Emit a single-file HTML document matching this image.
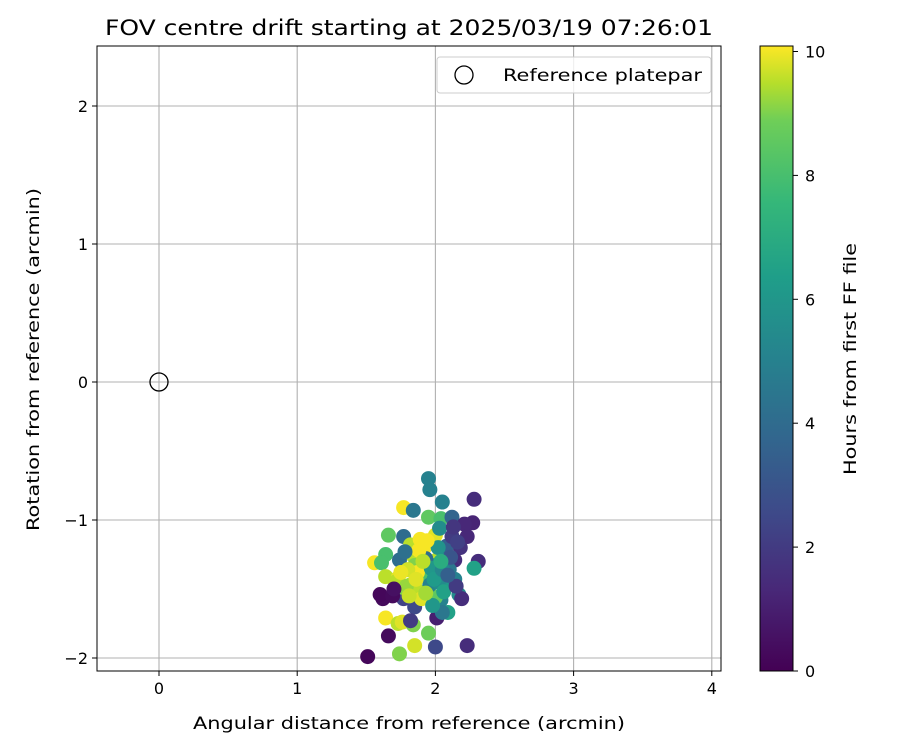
<!DOCTYPE html>
<html><head><meta charset="utf-8"><style>
body{margin:0;background:#fff;font-family:"Liberation Sans","DejaVu Sans",sans-serif}
text{font-family:"DejaVu Sans","Liberation Sans",sans-serif;fill:#000}
</style></head><body>
<svg id="c" width="900" height="750" xmlns="http://www.w3.org/2000/svg">
<defs><linearGradient id="vg" x1="0" y1="1" x2="0" y2="0">
<stop offset="0" stop-color="#440154"/><stop offset="0.13" stop-color="#482878"/><stop offset="0.25" stop-color="#3e4989"/><stop offset="0.38" stop-color="#31688e"/><stop offset="0.5" stop-color="#26828e"/><stop offset="0.63" stop-color="#1f9e89"/><stop offset="0.75" stop-color="#35b779"/><stop offset="0.88" stop-color="#6ece58"/><stop offset="0.94" stop-color="#b5de2b"/><stop offset="1" stop-color="#fde725"/></linearGradient></defs>
<text x="105" y="35" font-size="21" textLength="608" lengthAdjust="spacingAndGlyphs">FOV centre drift starting at 2025/03/19 07:26:01</text>
<g id="grid"></g><g id="pts"></g><g id="axes"></g>
<g>
<rect x="437" y="57" width="274" height="36" rx="3" fill="#fff" fill-opacity="0.8" stroke="#ccc"/>
<circle cx="464" cy="75" r="9" fill="none" stroke="#000" stroke-width="1.3"/>
<text x="503" y="81" font-size="17" textLength="199" lengthAdjust="spacingAndGlyphs">Reference platepar</text></g>
<rect x="760" y="46" width="33" height="625" fill="url(#vg)" stroke="#000" stroke-width="1"/>
<g id="cb"></g>
<text transform="translate(856,475) rotate(-90)" font-size="17" textLength="232" lengthAdjust="spacingAndGlyphs">Hours from first FF file</text>
<text x="193" y="729" font-size="17" textLength="432" lengthAdjust="spacingAndGlyphs">Angular distance from reference (arcmin)</text>
<text transform="translate(39,531) rotate(-90)" font-size="17" textLength="343" lengthAdjust="spacingAndGlyphs">Rotation from reference (arcmin)</text>
</svg>
<script>
const xTicks=[0,1,2,3,4];
const yTicks=[-2,-1,0,1,2];
const cbTicks=[0,2,4,6,8,10];
const ptX=[1.51,1.66,1.62,1.56,1.95,1.96,2.28,2.27,2.05,1.77,1.84,1.95,2.04,2.12,2.21,2.23,2.31,2.28,1.66,1.64,1.61,1.77,1.82,1.89,1.95,2.0,1.92,1.83,1.85,1.74,2.18,2.14,2.10,2.01,2.07,2.14,2.17,2.19,2.04,2.09,2.01,2.05,1.85,1.77,1.64,1.73,1.77,1.71,1.82,1.87,1.89,1.92,1.90,2.00,1.96,2.03,2.00,2.07,1.64,1.73,1.76,1.84,1.95,1.85,1.74,2.0,2.23,1.82,1.87,1.60,1.69,2.08,2.03,1.98,2.12,
1.93,1.97,2.02,1.88,1.80,1.79,1.86,1.91,2.06,2.11,2.15,2.02,1.99,2.05,1.81,1.75,1.94,2.09,2.16,1.98,1.70,1.93,2.04,2.13,1.78];
const ptY=[-1.99,-1.84,-1.57,-1.31,-0.70,-0.78,-0.85,-1.02,-0.87,-0.91,-0.93,-0.98,-0.99,-0.98,-1.03,-1.12,-1.30,-1.35,-1.11,-1.25,-1.31,-1.12,-1.18,-1.14,-1.17,-1.11,-1.20,-1.25,-1.33,-1.29,-1.20,-1.29,-1.36,-1.29,-1.47,-1.43,-1.54,-1.57,-1.58,-1.67,-1.71,-1.67,-1.63,-1.57,-1.41,-1.42,-1.49,-1.45,-1.47,-1.51,-1.40,-1.40,-1.57,-1.56,-1.47,-1.40,-1.33,-1.25,-1.71,-1.75,-1.74,-1.76,-1.82,-1.91,-1.97,-1.92,-1.91,-1.73,-1.38,-1.54,-1.55,-1.19,-1.06,-1.36,-1.12,
-1.28,-1.35,-1.45,-1.22,-1.36,-1.48,-1.43,-1.30,-1.52,-1.27,-1.48,-1.20,-1.43,-1.36,-1.55,-1.38,-1.15,-1.40,-1.16,-1.62,-1.50,-1.53,-1.30,-1.05,-1.23];
const ptT=[0.2,0.3,0.3,10,5,5,1.5,1.2,5,10,4.5,8.5,8,3.7,1.3,1.3,1.5,6.5,8.5,8,8,4,9.5,10,10,9.8,10,9.5,9,4,1.7,1.5,4.5,9.5,6,5,5.5,1.5,5,6.5,1,4.5,2.5,2.3,9.5,9.8,9,9.5,9.3,9.5,8.5,8,9.8,8.5,5,6,5.5,5.5,10,9.5,9.8,9,8.8,9.7,9,2.5,1.5,2,10,0.2,0.3,3.5,5.5,6,2,
4,6,5.5,10,9.7,9.2,9.8,9.5,6.5,3,2,5.8,6.2,5.2,9.6,9.9,10,3.5,2.2,6,0.5,9.3,7,1.8,4.2];
const NS="http://www.w3.org/2000/svg";
const X0=97,X1=721,Y0=46,Y1=671;
const sx=v=>159+v*138.2, sy=v=>382-v*138, sc=v=>671-v*61.95;
function mk(t,a,p){const e=document.createElementNS(NS,t);for(const k in a)e.setAttribute(k,a[k]);p.appendChild(e);return e;}
const stops=[[68,1,84],[72,40,120],[62,73,137],[49,104,142],[38,130,142],[31,158,137],[53,183,121],[110,206,88],[181,222,43],[253,231,37]];
const so=[0,0.13,0.25,0.38,0.5,0.63,0.75,0.88,0.94,1];
function vir(t){t=Math.max(0,Math.min(1,t/10.05));for(let i=1;i<so.length;i++){if(t<=so[i]){const f=(t-so[i-1])/(so[i]-so[i-1]);const c=stops[i-1].map((v,j)=>Math.round(v+(stops[i][j]-v)*f));return `rgb(${c})`;}}return 'rgb(253,231,37)';}
const g=document.getElementById('grid'),ax=document.getElementById('axes'),pg=document.getElementById('pts'),cb=document.getElementById('cb');
xTicks.forEach(v=>{const x=sx(v);
const l=mk('line',{x1:x,x2:x,y1:Y0,y2:Y1,stroke:'#b0b0b0','stroke-width':1.1},g);
mk('line',{x1:x,x2:x,y1:Y1,y2:Y1+5,stroke:'#000'},ax);
const t=mk('text',{x:x,y:Y1+23,'font-size':16,'text-anchor':'middle'},ax);t.textContent=v;});
yTicks.forEach(v=>{const y=sy(v);
const l=mk('line',{x1:X0,x2:X1,y1:y,y2:y,stroke:'#b0b0b0','stroke-width':1.1},g);
mk('line',{x1:X0-5,x2:X0,y1:y,y2:y,stroke:'#000'},ax);
const t=mk('text',{x:X0-9,y:y+6,'font-size':16,'text-anchor':'end'},ax);t.textContent=v<0?'\u2212'+(-v):v;});
ptX.forEach((v,i)=>{const c=mk('circle',{cx:sx(v),cy:sy(ptY[i]),r:7.5,fill:vir(ptT[i])},pg);});
const r=mk('circle',{cx:sx(0),cy:sy(0),r:9,fill:'none',stroke:'#000','stroke-width':1.3},pg);
const fr=mk('rect',{x:X0,y:Y0,width:X1-X0,height:Y1-Y0,fill:'none',stroke:'#000'},ax);
cbTicks.forEach(v=>{const y=sc(v);mk('line',{x1:793,x2:798,y1:y,y2:y,stroke:'#000'},cb);
const t=mk('text',{x:805,y:y+6,'font-size':16},cb);t.textContent=v;});
</script>
</body></html>
